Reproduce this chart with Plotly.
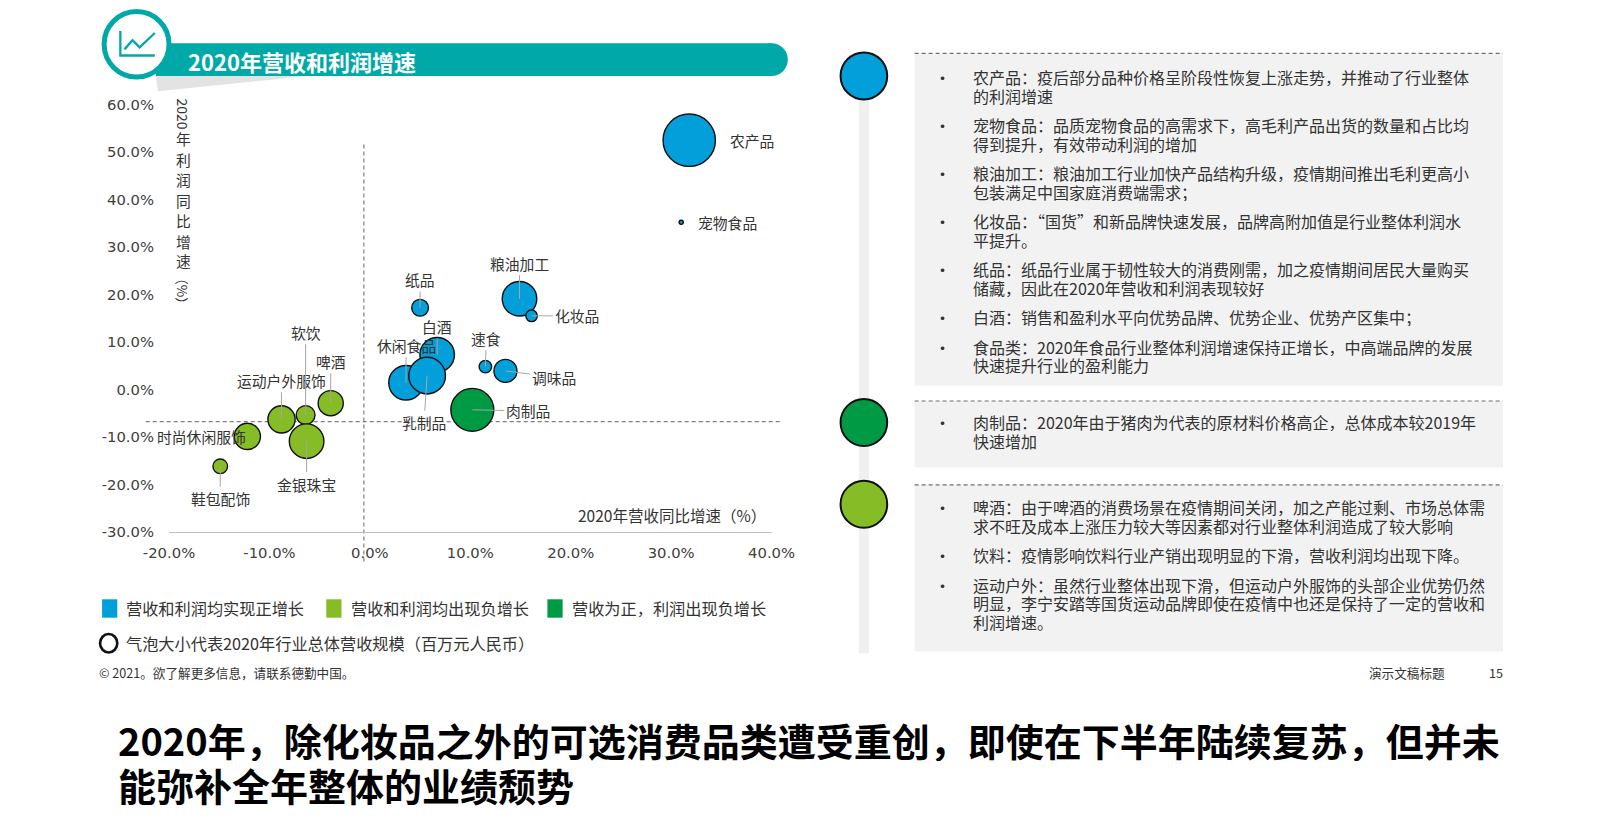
import plotly.graph_objects as go

W, H = 1600, 818
# layout helpers: positions below are measured on the reference picture and
# converted to page pixels, then to paper fractions
def tx(x): return (x - 22) / 0.955
def ty(y): return (y - 9.5) / 0.958
def px(x): return tx(x) / W
def py(y): return 1 - ty(y) / H

# ---------------- data ----------------
names = ["农产品", "宠物食品", "粮油加工", "化妆品", "纸品", "白酒", "休闲食品", "乳制品",
         "速食", "调味品", "肉制品", "啤酒", "运动户外服饰", "软饮", "时尚休闲服饰", "金银珠宝", "鞋包配饰"]
revenue_growth = [31.8, 31.0, 14.9, 16.1, 5.0, 6.7, 3.6, 5.7,
                  11.5, 13.5, 10.2, -3.9, -8.8, -6.4, -12.2, -6.3, -14.9]
profit_growth = [52.5, 35.2, 19.1, 15.5, 17.2, 7.3, 1.4, 2.9,
                 4.8, 3.9, -4.3, -2.9, -6.3, -5.4, -9.9, -10.9, -16.2]
revenue_scale = [50, 4, 33, 11, 16, 33, 33, 35, 12, 22, 41, 24, 26, 18, 25, 33, 14]
group = ["pos", "pos", "pos", "pos", "pos", "pos", "pos", "pos",
         "pos", "pos", "mixed", "neg", "neg", "neg", "neg", "neg", "neg"]
group_labels = {"pos": "营收和利润均实现正增长", "neg": "营收和利润均出现负增长", "mixed": "营收为正，利润出现负增长"}
x_ticks = [-20, -10, 0, 10, 20, 30, 40]
x_ticktext = ["-20.0%", "-10.0%", "0.0%", "10.0%", "20.0%", "30.0%", "40.0%"]
y_ticks = [-30, -20, -10, 0, 10, 20, 30, 40, 50, 60]
y_ticktext = ["-30.0%", "-20.0%", "-10.0%", "0.0%", "10.0%", "20.0%", "30.0%", "40.0%", "50.0%", "60.0%"]
ref_x = -0.6   # vertical dashed reference
ref_y = -6.8   # horizontal dashed reference

box1_lines = [
    ("农产品：疫后部分品种价格呈阶段性恢复上涨走势，并推动了行业整体", "的利润增速"),
    ("宠物食品：品质宠物食品的高需求下，高毛利产品出货的数量和占比均", "得到提升，有效带动利润的增加"),
    ("粮油加工：粮油加工行业加快产品结构升级，疫情期间推出毛利更高小", "包装满足中国家庭消费端需求；"),
    ("化妆品：“国货”和新品牌快速发展，品牌高附加值是行业整体利润水", "平提升。"),
    ("纸品：纸品行业属于韧性较大的消费刚需，加之疫情期间居民大量购买", "储藏，因此在2020年营收和利润表现较好"),
    ("白酒：销售和盈利水平向优势品牌、优势企业、优势产区集中；",),
    ("食品类：2020年食品行业整体利润增速保持正增长，中高端品牌的发展", "快速提升行业的盈利能力"),
]
box2_lines = [
    ("肉制品：2020年由于猪肉为代表的原材料价格高企，总体成本较2019年", "快速增加"),
]
box3_lines = [
    ("啤酒：由于啤酒的消费场景在疫情期间关闭，加之产能过剩、市场总体需", "求不旺及成本上涨压力较大等因素都对行业整体利润造成了较大影响"),
    ("饮料：疫情影响饮料行业产销出现明显的下滑，营收利润均出现下降。",),
    ("运动户外：虽然行业整体出现下滑，但运动户外服饰的头部企业优势仍然", "明显，李宁安踏等国货运动品牌即使在疫情中也还是保持了一定的营收和", "利润增速。"),
]

# ---------------- styles ----------------
COL = {"pos": "#039FDB", "neg": "#86BC25", "mixed": "#009A44"}
TEAL = "#00A9A7"
CJK = "Noto Sans CJK SC"
TXT = "#333333"
K = 1 / 0.955  # pixel scale factor

# label offsets (reference pixels) and whether leader line visible
label_off = {
    "农产品": (60, 0, False), "宠物食品": (44, 0, False), "粮油加工": (0, -34, True),
    "化妆品": (43, 0, True), "纸品": (0, -27, True), "白酒": (0, -27, True),
    "休闲食品": (0, -36, True), "乳制品": (-3, 45, True), "速食": (1, -27, True),
    "调味品": (46, 6, True), "肉制品": (53, 1, True), "啤酒": (0, -40, True),
    "运动户外服饰": (0, -37, True), "软饮": (0, -79, True), "时尚休闲服饰": (-44, 0, False),
    "金银珠宝": (0, 41, True), "鞋包配饰": (0, 31, True),
}

fig = go.Figure()
fig.add_trace(go.Scatter(
    x=revenue_growth, y=profit_growth, mode="markers", text=names,
    hoverinfo="text", showlegend=False, cliponaxis=False,
    marker=dict(size=revenue_scale, sizemode="diameter", sizeref=0.955,
                color=[COL[g] for g in group], opacity=1,
                line=dict(color="#111111", width=1.4)),
))

ann = []
shapes = []

def note(x, y, text, size, color=TXT, xanchor="left", bold=False, height=None, angle=0):
    d = dict(xref="paper", yref="paper", x=x, y=y, xanchor=xanchor, yanchor="middle",
             text=f"<b>{text}</b>" if bold else text, showarrow=False, textangle=angle,
             borderpad=0, font=dict(family=CJK, size=size, color=color))
    if height:
        d["height"] = height
    ann.append(d)

# bubble labels
for n, xv, yv in zip(names, revenue_growth, profit_growth):
    ax, ay, line = label_off[n]
    ann.append(dict(x=xv, y=yv, xref="x", yref="y", text=n, showarrow=True,
                    ax=ax * K, ay=ay * K, arrowhead=0, arrowwidth=1, standoff=0,
                    arrowcolor="#a6a6a6" if line else "rgba(0,0,0,0)",
                    font=dict(family=CJK, size=14.8, color=TXT)))

# dashed reference lines
shapes.append(dict(type="line", xref="x", yref="paper", x0=ref_x, x1=ref_x,
                   y0=py(550), y1=py(140), line=dict(color="#7f7f7f", width=1.2, dash="4px,3px"), layer="below"))
shapes.append(dict(type="line", xref="paper", yref="y", x0=px(140), x1=px(765),
                   y0=ref_y, y1=ref_y, line=dict(color="#7f7f7f", width=1.2, dash="4px,3px"), layer="below"))

# axis titles
note(px(752), py(505), "2020年营收同比增速（%）", 15.5, xanchor="right")
note(px(177), py(112), "2020", 14, xanchor="center", angle=90)
for ch, yy in zip("年利润同比增速", [136, 156, 176, 196, 216, 236, 255]):
    note(px(177), py(yy), ch, 14.8, xanchor="center", height=18)
note(px(177), py(285), "（%）", 13.5, xanchor="center", angle=90)

# ---------- header ----------
shapes.append(dict(type="path", xref="paper", yref="paper",
                   path=f"M {px(150)},{py(75)} L {px(300)},{py(75)} L {px(152)},{py(90)} Z",
                   fillcolor="#e3e3e3", line=dict(width=0), layer="below"))
shapes.append(dict(type="rect", xref="paper", yref="paper", x0=px(150), x1=px(757), y0=py(75), y1=py(43),
                   fillcolor=TEAL, line=dict(width=0)))
shapes.append(dict(type="circle", xref="paper", yref="paper", x0=px(741), x1=px(773), y0=py(75), y1=py(43),
                   fillcolor=TEAL, line=dict(width=0)))
shapes.append(dict(type="circle", xref="paper", yref="paper", x0=px(99), x1=px(163), y0=py(76), y1=py(12),
                   fillcolor="white", line=dict(color=TEAL, width=5)))
shapes.append(dict(type="path", xref="paper", yref="paper",
                   path=f"M {px(115)},{py(31)} L {px(115)},{py(55)} L {px(149)},{py(55)}",
                   line=dict(color=TEAL, width=2.3)))
shapes.append(dict(type="path", xref="paper", yref="paper",
                   path=f"M {px(119)},{py(49)} L {px(127)},{py(40)} L {px(134)},{py(47)} L {px(149)},{py(33)}",
                   line=dict(color=TEAL, width=2.3)))
note(px(181), py(60), "2020年营收和利润增速", 22, color="white", bold=True)

# ---------- legend ----------
leg_x = [97, 318, 536]
for key, lx in zip(["pos", "neg", "mixed"], leg_x):
    shapes.append(dict(type="rect", xref="paper", yref="paper", x0=px(lx), x1=px(lx + 15), y0=py(605), y1=py(587),
                       fillcolor=COL[key], line=dict(width=0)))
    note(px(lx + 23), py(596), group_labels[key], 16.2)
shapes.append(dict(type="circle", xref="paper", yref="paper", x0=px(95), x1=px(112), y0=py(639), y1=py(621),
                   fillcolor="white", line=dict(color="#111111", width=2.6)))
note(px(120), py(630), "气泡大小代表2020年行业总体营收规模（百万元人民币）", 16.2)

# ---------- footer ----------
note(px(93), py(659), "© 2021。欲了解更多信息，请联系德勤中国。", 12.6)
note(px(1345), py(659), "演示文稿标题", 12.6)
note(px(1471), py(659), "15", 12.6, xanchor="center")

# ---------- big title ----------
note(px(112), py(724), "2020年，除化妆品之外的可选消费品类遭受重创，即使在下半年陆续复苏，但并未",
     38, color="#000000", bold=True, height=44)
note(px(112), py(768), "能弥补全年整体的业绩颓势", 38, color="#000000", bold=True, height=44)

# ---------- right panel ----------
shapes.append(dict(type="rect", xref="paper", yref="paper", x0=px(843), x1=px(853), y0=py(640), y1=py(60),
                   fillcolor="#f0f0f0", line=dict(width=0), layer="below"))
boxes = [(53, 378, box1_lines, 76, "pos", 75), (393, 458, box2_lines, 414, "mixed", 414),
         (475, 638, box3_lines, 497, "neg", 494)]
for top, bot, items, first_y, key, cy in boxes:
    shapes.append(dict(type="rect", xref="paper", yref="paper", x0=px(898), x1=px(1478), y0=py(bot), y1=py(top),
                       fillcolor="#f2f2f2", line=dict(width=0), layer="below"))
    shapes.append(dict(type="line", xref="paper", yref="paper", x0=px(898), x1=px(1478), y0=py(top), y1=py(top),
                       line=dict(color="#6f6f6f", width=1.2, dash="4px,3px")))
    shapes.append(dict(type="circle", xref="paper", yref="paper", x0=px(825), x1=px(871), y0=py(cy + 23), y1=py(cy - 23),
                       fillcolor=COL[key], line=dict(color="#111111", width=2)))
    yy = first_y
    for item in items:
        note(px(925), py(yy), "•", 17, xanchor="center", height=18)
        for ln in item:
            note(px(955), py(yy), ln, 16, height=18)
            yy += 18.3
        yy += 10.4

fig.update_layout(
    width=W, height=H, margin=dict(l=0, r=0, t=0, b=0),
    paper_bgcolor="white", plot_bgcolor="rgba(0,0,0,0)",
    showlegend=False, annotations=ann, shapes=shapes,
    xaxis=dict(domain=[px(163), px(757)], range=[-20, 40], tickvals=x_ticks, ticktext=x_ticktext,
               showgrid=False, zeroline=False, showline=True, linecolor="#bfbfbf", linewidth=1,
               ticks="", ticklabelstandoff=7, tickfont=dict(family="DejaVu Sans", size=14.8, color="#404040")),
    yaxis=dict(domain=[py(521), py(103)], range=[-30, 60], tickvals=y_ticks, ticktext=y_ticktext,
               showgrid=False, zeroline=False, showline=False, ticks="", ticklabelstandoff=14,
               tickfont=dict(family="DejaVu Sans", size=14.8, color="#404040")),
)

fig.write_html("out.html", config={"displayModeBar": False},
               post_script="document.body.style.margin='0px';document.body.style.overflow='hidden';")
